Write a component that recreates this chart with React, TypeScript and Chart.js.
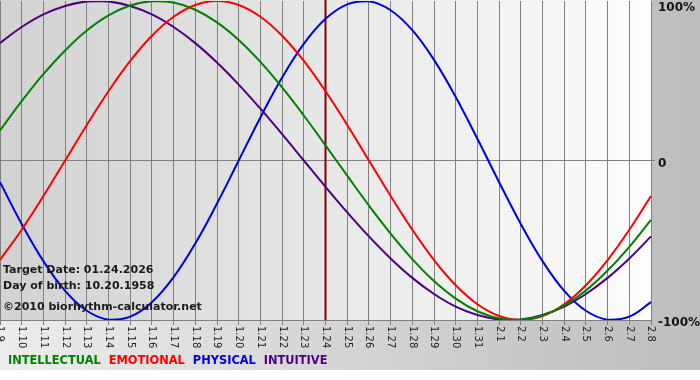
import React, { useEffect, useRef } from 'react';
import { Chart, registerables } from 'chart.js';

Chart.register(...registerables);

const dates = ['1.9', '1.10', '1.11', '1.12', '1.13', '1.14', '1.15', '1.16', '1.17', '1.18', '1.19', '1.20', '1.21', '1.22', '1.23', '1.24', '1.25', '1.26', '1.27', '1.28', '1.29', '1.30', '1.31', '2.1', '2.2', '2.3', '2.4', '2.5', '2.6', '2.7', '2.8'];

const intellectual = [0.189, 0.372, 0.541, 0.690, 0.815, 0.910, 0.972, 0.999, 0.990, 0.945, 0.866, 0.756, 0.618, 0.458, 0.282, 0.095, -0.095, -0.282, -0.458, -0.618, -0.756, -0.866, -0.945, -0.990, -0.999, -0.972, -0.910, -0.815, -0.690, -0.541, -0.372];
const emotional = [-0.624, -0.434, -0.223, 0, 0.223, 0.434, 0.624, 0.782, 0.901, 0.975, 1, 0.975, 0.901, 0.782, 0.624, 0.434, 0.223, 0, -0.223, -0.434, -0.624, -0.782, -0.901, -0.975, -1, -0.975, -0.901, -0.782, -0.624, -0.434, -0.223];
const physical = [-0.136, -0.398, -0.631, -0.817, -0.942, -0.998, -0.979, -0.888, -0.731, -0.520, -0.270, 0, 0.270, 0.520, 0.731, 0.888, 0.979, 0.998, 0.942, 0.817, 0.631, 0.398, 0.136, -0.136, -0.398, -0.631, -0.817, -0.942, -0.998, -0.979, -0.888];
const intuitive = [0.736, 0.837, 0.916, 0.969, 0.997, 0.997, 0.969, 0.916, 0.837, 0.736, 0.614, 0.476, 0.325, 0.165, 0, -0.165, -0.325, -0.476, -0.614, -0.736, -0.837, -0.916, -0.969, -0.997, -0.997, -0.969, -0.916, -0.837, -0.736, -0.614, -0.476];

const seriesNames = ['INTELLECTUAL', 'EMOTIONAL', 'PHYSICAL', 'INTUITIVE'];
const yTickValues = [1, 0, -1];
const yTickLabels = ['100%', '0', '-100%'];
const targetDate = '1.24';
const infoLines = ['Target Date: 01.24.2026', 'Day of birth: 10.20.1958', '©2010 biorhythm-calculator.net'];

const FONT = '"DejaVu Sans", Verdana, sans-serif';

const decor = {
  id: 'decor',
  beforeDraw(chart: any) {
    const { ctx, chartArea: a } = chart;
    ctx.save();
    ctx.fillStyle = '#ffffff';
    ctx.fillRect(0, 0, chart.width, chart.height);
    let g = ctx.createLinearGradient(0, 0, chart.width, 0);
    g.addColorStop(0, '#ececec');
    g.addColorStop(1, '#bdbdbd');
    ctx.fillStyle = g;
    ctx.fillRect(0, 0, chart.width, 370);
    g = ctx.createLinearGradient(a.left, 0, a.right, 0);
    g.addColorStop(0, '#d2d2d2');
    g.addColorStop(1, '#fdfdfd');
    ctx.fillStyle = g;
    ctx.fillRect(a.left, 0, a.right - a.left, a.bottom);
    ctx.restore();
  },
  beforeDatasetsDraw(chart: any) {
    const { ctx, chartArea: a } = chart;
    const x = chart.scales.x.getPixelForValue(dates.indexOf(targetDate));
    ctx.save();
    ctx.strokeStyle = '#800000';
    ctx.lineWidth = 2;
    ctx.beginPath();
    ctx.moveTo(x, 0);
    ctx.lineTo(x, a.bottom);
    ctx.stroke();
    ctx.restore();
  },
  afterDraw(chart: any) {
    const { ctx, chartArea: a } = chart;
    const xs = chart.scales.x;
    const ys = chart.scales.y;
    ctx.save();
    // x labels rotated clockwise
    ctx.font = `10px ${FONT}`;
    ctx.fillStyle = '#222';
    ctx.textAlign = 'left';
    ctx.textBaseline = 'middle';
    dates.forEach((d, i) => {
      const x = xs.getPixelForValue(i);
      ctx.save();
      ctx.translate(x, a.bottom + 6);
      ctx.rotate(Math.PI / 2);
      ctx.fillText(d, 0, 0);
      ctx.restore();
    });
    // y labels
    ctx.font = `bold 12px ${FONT}`;
    ctx.fillStyle = '#111';
    yTickValues.forEach((v, i) => {
      let y = ys.getPixelForValue(v) + 3;
      if (y < 8) y = 8;
      ctx.fillText(yTickLabels[i], a.right + 7, y);
    });
    // info text
    ctx.font = `bold 11px ${FONT}`;
    ctx.fillStyle = '#1a1a1a';
    ctx.fillText(infoLines[0], 3, 270);
    ctx.fillText(infoLines[1], 3, 286);
    ctx.fillText(infoLines[2], 3, 307);
    // legend
    ctx.font = `bold 11.4px ${FONT}`;
    let lx = 8;
    chart.data.datasets.forEach((ds: any) => {
      ctx.fillStyle = ds.borderColor;
      ctx.fillText(ds.label, lx, 361);
      lx += ctx.measureText(ds.label).width + 8;
    });
    ctx.restore();
  },
};

export default function App() {
  const ref = useRef<HTMLCanvasElement | null>(null);
  useEffect(() => {
    if (!ref.current) return;
    const chart = new Chart(ref.current, {
      type: 'line',
      data: {
        labels: dates,
        datasets: [
          { label: seriesNames[0], data: intellectual, borderColor: '#008000' },
          { label: seriesNames[1], data: emotional, borderColor: '#ff0000' },
          { label: seriesNames[2], data: physical, borderColor: '#0000dd' },
          { label: seriesNames[3], data: intuitive, borderColor: '#4b0082' },
        ].map((d) => ({ ...d, borderWidth: 2, pointRadius: 0, tension: 0.4, fill: false })),
      },
      options: {
        responsive: false,
        animation: false,
        layout: { padding: { top: 1, bottom: 10, left: 0, right: 0 } },
        plugins: { legend: { display: false }, tooltip: { enabled: false } },
        scales: {
          x: {
            type: 'category',
            offset: false,
            grid: { color: '#808080', lineWidth: 1, tickLength: 5, drawTicks: true },
            border: { color: '#808080' },
            ticks: { display: false, autoSkip: false, maxRotation: 0, minRotation: 0 },
            afterFit: (s: any) => { s.height = 50; },
          },
          y: {
            position: 'right',
            min: -1,
            max: 1,
            grid: {
              color: (c: any) => (c.tick && c.tick.value === 0 ? '#808080' : 'rgba(0,0,0,0)'),
              tickLength: 4,
            },
            border: { display: false },
            ticks: { display: false, stepSize: 1 },
            afterFit: (s: any) => { s.width = 49; },
          },
        },
      },
      plugins: [decor],
    });
    return () => chart.destroy();
  }, []);
  return (
    <div style={{ position: 'fixed', left: 0, top: 0, width: 700, height: 380 }}>
      <canvas ref={ref} width={700} height={380} style={{ display: 'block' }} />
    </div>
  );
}
